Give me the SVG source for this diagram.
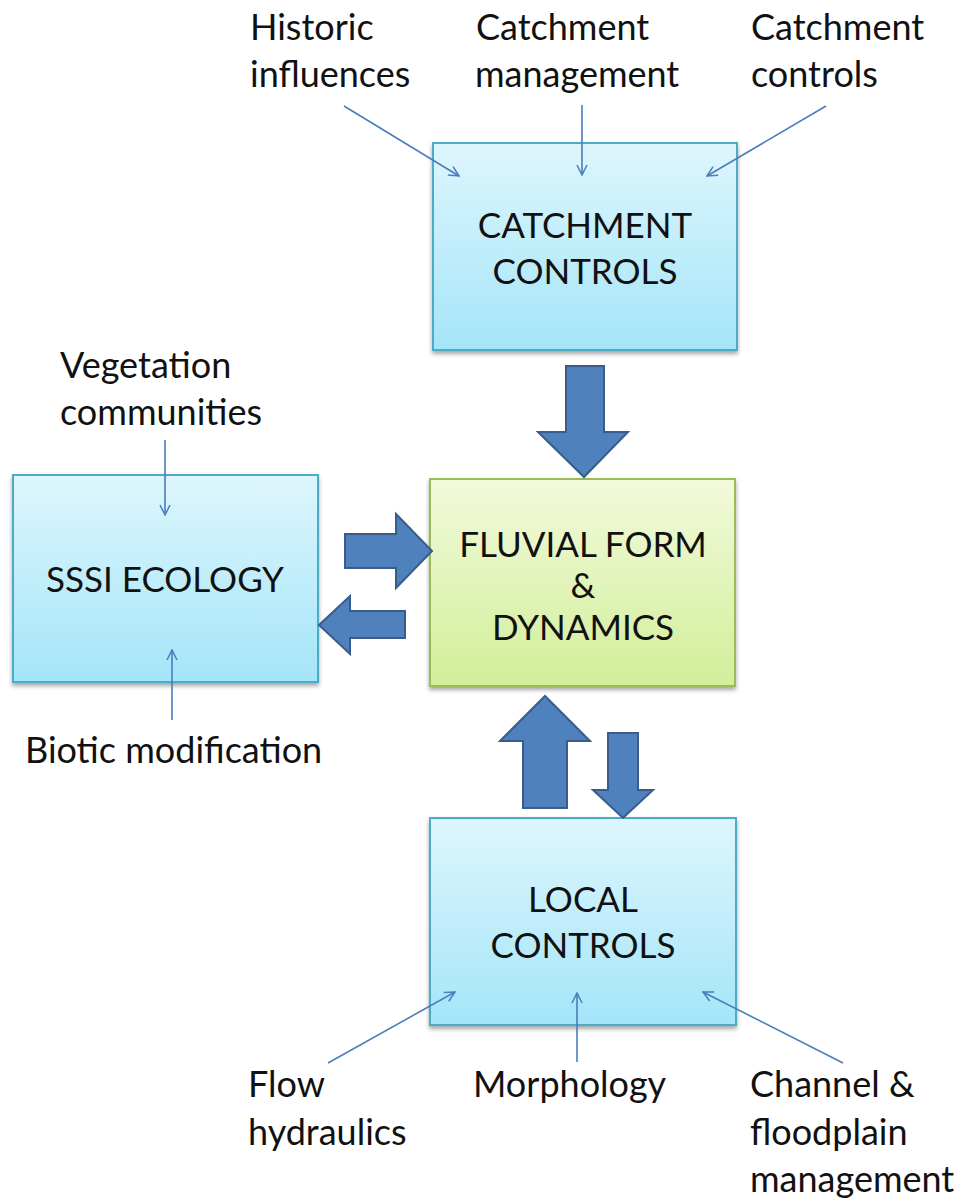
<svg xmlns="http://www.w3.org/2000/svg" width="964" height="1201" viewBox="0 0 964 1201">
<defs>
<linearGradient id="gBlue" x1="0" y1="0" x2="0" y2="1">
<stop offset="0" stop-color="#def6fd"/>
<stop offset="1" stop-color="#a4e5f8"/>
</linearGradient>
<linearGradient id="gGreen" x1="0" y1="0" x2="0" y2="1">
<stop offset="0" stop-color="#f2fadb"/>
<stop offset="1" stop-color="#d2ee9a"/>
</linearGradient>
<filter id="sh" x="-10%" y="-10%" width="120%" height="120%">
<feDropShadow dx="0" dy="3" stdDeviation="2" flood-color="#000" flood-opacity="0.35"/>
</filter>
<marker id="open" viewBox="0 0 12 12" refX="11" refY="6" markerWidth="12" markerHeight="12" markerUnits="userSpaceOnUse" orient="auto">
<path d="M1,1 L11,6 L1,11" fill="none" stroke="#4a7ebb" stroke-width="1.5"/>
</marker>
</defs>
<style>
text{font-family:Lato,"Liberation Sans",sans-serif;fill:#111;}
.lab{font-size:36px;}
.box{font-size:35px;text-anchor:middle;}
.blue{fill:url(#gBlue);stroke:#4bacc6;stroke-width:2;filter:url(#sh);}
.green{fill:url(#gGreen);stroke:#9bbb59;stroke-width:2;filter:url(#sh);}
.thin{stroke:#4a7ebb;stroke-width:1.6;fill:none;marker-end:url(#open);}
.big{fill:#4f81bd;stroke:#385d8a;stroke-width:2;stroke-linejoin:miter;}
</style>
<rect width="964" height="1201" fill="#fff"/>

<g id="catchment">
<rect class="blue" x="433" y="143" width="304" height="207"/>
<text class="box" x="585" y="238">CATCHMENT</text>
<text class="box" x="585" y="284">CONTROLS</text>
</g>
<g id="fluvial">
<rect class="green" x="430" y="479" width="305" height="207"/>
<text class="box" x="583" y="557">FLUVIAL FORM</text>
<text class="box" x="583" y="598">&amp;</text>
<text class="box" x="583" y="640">DYNAMICS</text>
</g>
<g id="sssi">
<rect class="blue" x="13" y="475" width="305" height="207"/>
<text class="box" x="165" y="592">SSSI ECOLOGY</text>
</g>
<g id="local">
<rect class="blue" x="430" y="818" width="306" height="207"/>
<text class="box" x="583" y="912">LOCAL</text>
<text class="box" x="583" y="958">CONTROLS</text>
</g>

<g id="labels">
<text class="lab" x="250" y="40">Historic</text>
<text class="lab" x="250" y="87">influences</text>
<text class="lab" x="476" y="40">Catchment</text>
<text class="lab" x="475" y="87">management</text>
<text class="lab" x="751" y="40">Catchment</text>
<text class="lab" x="751" y="87">controls</text>
<text class="lab" x="60" y="378">Vegetation</text>
<text class="lab" x="60" y="425">communities</text>
<text class="lab" x="25" y="763">Biotic modification</text>
<text class="lab" x="248" y="1097">Flow</text>
<text class="lab" x="248" y="1145">hydraulics</text>
<text class="lab" x="473" y="1097">Morphology</text>
<text class="lab" x="750" y="1097">Channel &amp;</text>
<text class="lab" x="750" y="1145">floodplain</text>
<text class="lab" x="750" y="1192">management</text>
</g>

<g id="connectors">
<line class="thin" x1="344" y1="106" x2="459" y2="176"/>
<line class="thin" x1="582" y1="105" x2="582" y2="175"/>
<line class="thin" x1="826" y1="106" x2="707" y2="176"/>
<line class="thin" x1="165" y1="440" x2="165" y2="515"/>
<line class="thin" x1="172" y1="720" x2="172" y2="650"/>
<line class="thin" x1="328" y1="1063" x2="455" y2="992"/>
<line class="thin" x1="577" y1="1062" x2="577" y2="993"/>
<line class="thin" x1="843" y1="1063" x2="703" y2="992"/>

<polygon class="big" points="566,366 604,366 604,432 628,432 584,477 538,432 566,432"/>
<polygon class="big" points="345,534 396,534 396,514 432,551 396,588 396,568 345,568"/>
<polygon class="big" points="405,611 350,611 350,596 319,625 350,654 350,638 405,638"/>
<polygon class="big" points="523,808 523,741 500,741 545,696 590,741 567,741 567,808"/>
<polygon class="big" points="608,733 638,733 638,790 653,790 623,818 593,790 608,790"/>
</g>
</svg>
